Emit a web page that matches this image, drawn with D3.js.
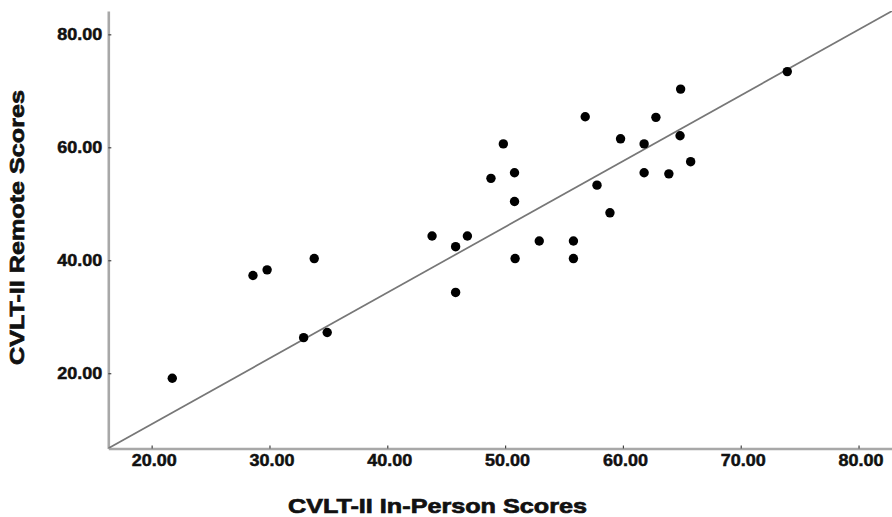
<!DOCTYPE html>
<html>
<head>
<meta charset="utf-8">
<script src="https://cdn.jsdelivr.net/npm/d3@7/dist/d3.min.js"></script>
<style>
  html, body { margin: 0; padding: 0; background: #fff; }
  svg { display: block; font-family: "Liberation Sans", Arial, sans-serif; }
</style>
</head>
<body>
<svg id="chart" width="892" height="517"></svg>
<script>
// ---- Data ----
const inPerson = [21.75, 28.6, 29.8, 33.8, 32.9, 34.9, 43.8, 46.8, 45.8, 45.8,
                  48.8, 49.85, 50.8, 50.8, 50.85, 52.9, 55.8, 55.8, 56.8, 57.8,
                  58.9, 59.8, 61.8, 61.8, 62.8, 63.9, 64.85, 64.9, 65.75, 73.95];
const remote   = [19.1, 37.3, 38.3, 40.3, 26.3, 27.2, 44.3, 44.3, 42.4, 34.3,
                  54.5, 60.6, 55.5, 50.4, 40.3, 43.4, 43.4, 40.3, 65.4, 53.3,
                  48.4, 61.5, 60.6, 55.5, 65.3, 55.3, 62.05, 70.3, 57.45, 73.4];
const xTicks = [20, 30, 40, 50, 60, 70, 80];
const yTicks = [20, 40, 60, 80];
const fitLine = { intercept: -12.30, slope: 1.164 };
const xTitle = "CVLT-II In-Person Scores";
const yTitle = "CVLT-II Remote Scores";

const points = inPerson.map((v, i) => ({ x: v, y: remote[i] }));

// ---- Layout ----
const svg = d3.select("#chart");
const x = d3.scaleLinear().domain([16.32, 82.84]).range([108.3, 892]);
const y = d3.scaleLinear().domain([6.67, 84.13]).range([448.5, 11]);

const axisColor = "#a8a8a8";
const tickFont = 17;

// Clip for the plot area
svg.append("defs").append("clipPath").attr("id", "plotclip")
  .append("rect")
  .attr("x", x.range()[0]).attr("y", y.range()[1])
  .attr("width", x.range()[1] - x.range()[0])
  .attr("height", y.range()[0] - y.range()[1]);

// Y axis
const yAxis = svg.append("g")
  .attr("transform", `translate(${x.range()[0]},0)`)
  .call(d3.axisLeft(y).tickValues(yTicks).tickFormat(d3.format(".2f"))
        .tickSizeInner(-3).tickSizeOuter(0).tickPadding(6));
yAxis.select(".domain").attr("stroke", axisColor).attr("stroke-width", 2.6);
yAxis.selectAll(".tick line").attr("stroke", "#444").attr("stroke-width", 1.2);
yAxis.selectAll(".tick text")
  .attr("font-size", tickFont).attr("font-weight", "bold").attr("fill", "#111")
  .attr("stroke", "#111").attr("stroke-width", 0.5)
  .attr("textLength", 45).attr("lengthAdjust", "spacingAndGlyphs");

// X axis
const xAxis = svg.append("g")
  .attr("transform", `translate(0,${y.range()[0]})`)
  .call(d3.axisBottom(x).tickValues(xTicks).tickFormat(d3.format(".2f"))
        .tickSizeInner(-3).tickSizeOuter(0).tickPadding(5));
xAxis.select(".domain").attr("stroke", axisColor).attr("stroke-width", 2.6);
xAxis.selectAll(".tick line").attr("stroke", "#444").attr("stroke-width", 1.2);
xAxis.selectAll(".tick text")
  .attr("font-size", tickFont).attr("font-weight", "bold").attr("fill", "#111")
  .attr("stroke", "#111").attr("stroke-width", 0.5)
  .attr("dx", 2)
  .attr("textLength", 45).attr("lengthAdjust", "spacingAndGlyphs");

// Fit line
const [x0, x1] = x.domain();
svg.append("line")
  .attr("clip-path", "url(#plotclip)")
  .attr("x1", x(x0)).attr("y1", y(fitLine.intercept + fitLine.slope * x0))
  .attr("x2", x(x1)).attr("y2", y(fitLine.intercept + fitLine.slope * x1))
  .attr("stroke", "#777").attr("stroke-width", 1.7);

// Points
svg.append("g").selectAll("circle")
  .data(points).join("circle")
  .attr("cx", d => x(d.x)).attr("cy", d => y(d.y))
  .attr("r", 4.7).attr("fill", "#000");

// Axis titles
svg.append("text")
  .attr("x", 437.5).attr("y", 513)
  .attr("text-anchor", "middle")
  .attr("font-size", 21).attr("font-weight", "bold").attr("fill", "#111")
  .attr("stroke", "#111").attr("stroke-width", 0.7)
  .attr("textLength", 299).attr("lengthAdjust", "spacingAndGlyphs")
  .text(xTitle);

svg.append("text")
  .attr("transform", "translate(24,227.5) rotate(-90)")
  .attr("text-anchor", "middle")
  .attr("font-size", 21).attr("font-weight", "bold").attr("fill", "#111")
  .attr("stroke", "#111").attr("stroke-width", 0.7)
  .attr("textLength", 275).attr("lengthAdjust", "spacingAndGlyphs")
  .text(yTitle);
</script>
</body>
</html>
